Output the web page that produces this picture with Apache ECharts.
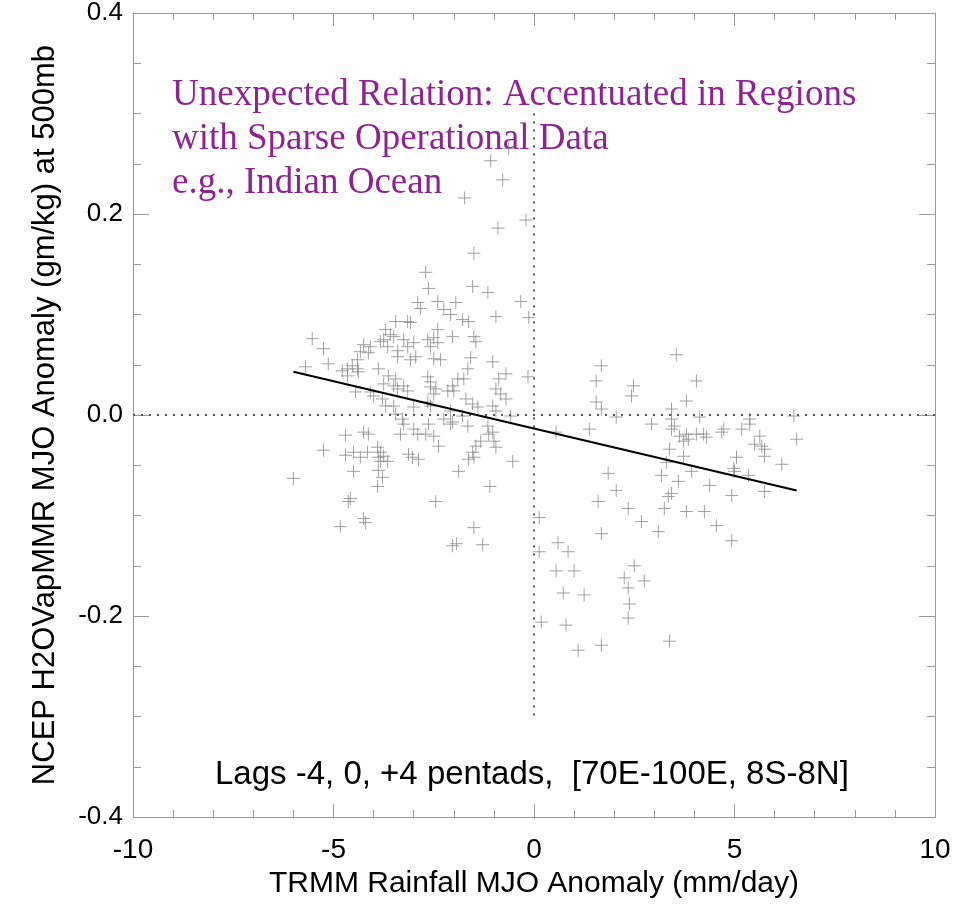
<!DOCTYPE html>
<html>
<head>
<meta charset="utf-8">
<script src="https://cdn.jsdelivr.net/npm/echarts@6/dist/echarts.min.js"></script>
<style>html,body{margin:0;padding:0;background:#fff;}#chart{width:969px;height:904px;}</style>
</head>
<body>
<div id="chart"></div>
<script>
// ---- data ----
const xTickValues = [-10, -5, 0, 5, 10];
const yTickLabels = ['-0.4', '-0.2', '0.0', '0.2', '0.4'];
const rainfall = [
-2.70,-2.63,-2.90,-2.83,-2.40,-2.25,-1.95,-2.08,-3.45,-3.15,-3.08,-3.70,-3.58,-3.50,-3.75,-5.53,-5.25,-5.13,-5.70,-4.25,
-4.08,-4.33,-4.13,-3.83,-3.65,-3.25,-3.15,-3.00,-3.40,-2.65,-2.50,-2.58,-2.40,-2.03,-2.40,-2.95,-3.08,-2.50,-2.33,-3.40,
-4.40,-4.53,-4.65,-4.78,-4.65,-4.40,-4.38,-3.88,-3.63,-3.45,-3.75,-3.50,-3.40,-3.25,-3.15,-2.65,-2.58,-2.58,-2.45,-2.50,
-2.15,-2.03,-2.00,-1.90,-4.45,-4.08,-4.00,-3.78,-3.70,-3.50,-3.45,-3.28,-3.00,-2.65,-2.58,-2.25,-2.03,-2.08,-4.70,-4.25,
-4.13,-5.25,-4.70,-4.50,-4.33,-4.15,-3.90,-3.83,-3.88,-3.75,-3.65,-3.83,-3.33,-3.00,-2.90,-2.70,-2.50,-3.25,-2.63,-2.08,
-3.13,-3.03,-2.88,-2.38,-4.50,-3.88,-3.78,-3.90,-6.00,-4.58,-4.63,-4.25,-4.20,-4.83,-2.45,-2.03,-1.88,-1.08,-0.63,-0.78,
-1.73,-0.20,-0.90,-1.50,-1.53,-1.15,-0.33,-1.78,-1.63,-0.95,-0.13,-1.50,-1.45,-1.58,-1.03,-1.65,-1.75,-0.70,-0.88,-0.95,
-0.83,-0.70,-0.15,-1.70,-1.53,-1.40,-1.03,-0.95,-1.78,-0.58,-1.65,-1.15,-1.13,-1.03,-1.33,-1.45,-1.53,-1.50,-1.63,-1.00,
-0.95,-0.53,-1.10,0.55,0.13,-1.50,-1.28,-1.93,0.60,0.13,0.85,1.60,2.35,2.68,1.68,2.50,0.55,1.00,2.25,2.75,
2.35,0.73,1.25,2.38,2.35,0.18,0.80,1.10,1.68,3.55,1.68,1.55,2.48,2.43,4.05,3.80,1.55,1.68,3.43,2.05,
2.93,1.38,3.43,3.50,3.43,3.63,3.80,3.73,3.85,4.05,3.38,3.73,3.30,1.85,3.18,3.93,3.60,2.05,3.43,3.35,
4.13,5.38,5.38,6.48,4.23,4.30,4.73,4.68,5.18,5.63,5.50,5.68,5.75,6.55,5.05,5.75,6.18,4.98,5.00,5.35,
4.38,4.93,5.75,3.80,4.25,3.25,4.55,3.10,4.93,3.38
];
const vapor = [
0.142,0.126,0.112,0.106,0.113,0.105,0.112,0.100,0.093,0.093,0.092,0.085,0.080,0.078,0.075,0.076,0.066,0.051,0.048,0.070,
0.068,0.063,0.062,0.073,0.068,0.075,0.068,0.072,0.064,0.075,0.077,0.068,0.072,0.078,0.085,0.058,0.055,0.056,0.055,0.058,
0.055,0.049,0.046,0.044,0.039,0.046,0.043,0.046,0.039,0.036,0.031,0.029,0.026,0.029,0.024,0.038,0.033,0.028,0.026,0.021,
0.024,0.029,0.024,0.036,0.023,0.023,0.019,0.016,0.009,0.009,0.001,-0.004,0.008,0.013,0.009,-0.004,-0.007,0.004,-0.020,-0.017,
-0.019,-0.035,-0.040,-0.037,-0.042,-0.037,-0.032,-0.037,-0.042,-0.041,-0.046,-0.046,-0.019,-0.014,-0.019,-0.019,-0.021,-0.009,-0.009,-0.009,
-0.039,-0.042,-0.044,-0.031,-0.056,-0.055,-0.062,-0.071,-0.063,-0.083,-0.086,-0.103,-0.107,-0.111,-0.086,-0.130,-0.056,0.253,0.265,0.234,
0.216,0.194,0.186,0.161,0.128,0.122,0.113,0.095,0.093,0.098,0.097,0.078,0.073,0.057,0.053,0.046,0.036,0.041,0.036,0.026,
0.021,0.016,0.038,0.016,0.011,0.008,0.009,0.004,-0.001,-0.001,-0.011,-0.011,-0.019,-0.017,-0.026,-0.031,-0.037,-0.042,-0.044,-0.026,
-0.032,-0.046,-0.071,-0.017,-0.102,-0.112,-0.129,-0.128,-0.127,-0.136,-0.136,-0.086,-0.093,-0.106,-0.118,-0.150,-0.155,-0.155,-0.162,-0.165,
-0.172,-0.177,-0.179,-0.188,-0.202,-0.206,-0.209,-0.234,-0.229,0.060,0.049,0.034,0.029,0.019,0.034,0.014,0.013,0.006,0.006,-0.002,
-0.009,-0.014,-0.004,-0.011,-0.014,-0.021,-0.019,-0.026,-0.024,-0.019,-0.034,-0.041,-0.047,-0.058,-0.060,-0.056,-0.066,-0.075,-0.078,-0.081,
-0.002,-0.004,-0.009,-0.001,-0.019,-0.022,-0.014,-0.017,-0.014,-0.021,-0.029,-0.031,-0.034,-0.024,-0.042,-0.041,-0.049,-0.053,-0.056,-0.060,
-0.070,-0.080,-0.076,-0.096,-0.096,-0.093,-0.110,-0.116,-0.125,-0.225
];
const fitX = [-6.0, 6.55];
const fitY = [0.043, -0.075];
const zeroLineX = [-10, 10];
const zeroLineY = [0, 0];
const verticalX = [0, 0];
const verticalY = [0.3, -0.3];
const noteLines = ['Unexpected Relation: Accentuated in Regions', 'with Sparse Operational Data', 'e.g., Indian Ocean'];
const lagText = 'Lags -4, 0, +4 pentads,  [70E-100E, 8S-8N]';
const xTitle = 'TRMM Rainfall MJO Anomaly (mm/day)';
const yTitle = 'NCEP H2OVapMMR MJO Anomaly (gm/kg) at 500mb';

// ---- chart ----
const zip = (a, b) => a.map((v, i) => [v, b[i]]);
const frameColor = '#9a9a9a';
const narrowFont = 'Liberation Sans Narrow, Liberation Sans, Arial, sans-serif';
const sansFont = 'Liberation Sans, Arial, sans-serif';

function xAxisCfg(pos, show) {
  return {
    type: 'value', position: pos, min: -10, max: 10, interval: 5,
    axisLine: { show: true, onZero: false, lineStyle: { color: frameColor, width: 1 } },
    axisTick: { show: true, inside: true, length: 13, lineStyle: { color: frameColor } },
    minorTick: { show: true, splitNumber: 5, length: 7, lineStyle: { color: frameColor } },
    splitLine: { show: false },
    axisLabel: show ? {
      show: true, margin: 19, fontSize: 28, color: '#000', fontFamily: narrowFont,
      formatter: v => xTickValues.includes(v) ? String(v) : ''
    } : { show: false },
    name: show ? xTitle : '', nameLocation: 'middle', nameGap: 49,
    nameTextStyle: { fontSize: 30, color: '#000', fontFamily: narrowFont }
  };
}
function yAxisCfg(pos, show) {
  return {
    type: 'value', position: pos, min: -0.4, max: 0.4, interval: 0.2,
    axisLine: { show: true, onZero: false, lineStyle: { color: frameColor, width: 1 } },
    axisTick: { show: true, inside: true, length: 16, lineStyle: { color: frameColor } },
    minorTick: { show: true, splitNumber: 4, length: 8, lineStyle: { color: frameColor } },
    splitLine: { show: false },
    axisLabel: show ? {
      show: true, margin: 10, fontSize: 26, color: '#000', fontFamily: sansFont,
      formatter: v => yTickLabels[Math.round((v + 0.4) / 0.2)]
    } : { show: false },
    name: show ? yTitle : '', nameLocation: 'middle', nameGap: 72, nameRotate: 90,
    nameTextStyle: { fontSize: 31, color: '#000', fontFamily: sansFont }
  };
}

const chart = echarts.init(document.getElementById('chart'), null, { renderer: 'canvas' });
chart.setOption({
  animation: false,
  backgroundColor: '#fff',
  grid: { left: 133, right: 34, top: 12, bottom: 81, containLabel: false },
  xAxis: [xAxisCfg('bottom', true), xAxisCfg('top', false)],
  yAxis: [yAxisCfg('left', true), yAxisCfg('right', false)],
  series: [
    {
      type: 'line', data: zip(zeroLineX, zeroLineY), symbol: 'none', silent: true,
      lineStyle: { color: '#555', width: 2, type: [2, 6] }
    },
    {
      type: 'line', data: zip(verticalX, verticalY), symbol: 'none', silent: true,
      lineStyle: { color: '#555', width: 2, type: [2, 6] }
    },
    {
      type: 'scatter', data: zip(rainfall, vapor),
      symbol: 'path://M6,0 L6,12 M0,6 L12,6', symbolSize: 13,
      itemStyle: { color: 'rgba(0,0,0,0)', borderColor: '#8a8a8a', borderWidth: 1 }
    },
    {
      type: 'line', data: zip(fitX, fitY), symbol: 'none',
      lineStyle: { color: '#000', width: 2 }
    }
  ],
  graphic: [
    {
      type: 'text', left: 172, top: 73,
      style: {
        text: noteLines.join('\n'), fill: '#8e2491', fontSize: 37, lineHeight: 44,
        fontFamily: 'Liberation Serif, Times New Roman, serif'
      }
    },
    {
      type: 'text', left: 215, top: 758,
      style: {
        text: lagText, fill: '#000', fontSize: 33,
        fontFamily: sansFont
      }
    }
  ]
});
</script>
</body>
</html>
